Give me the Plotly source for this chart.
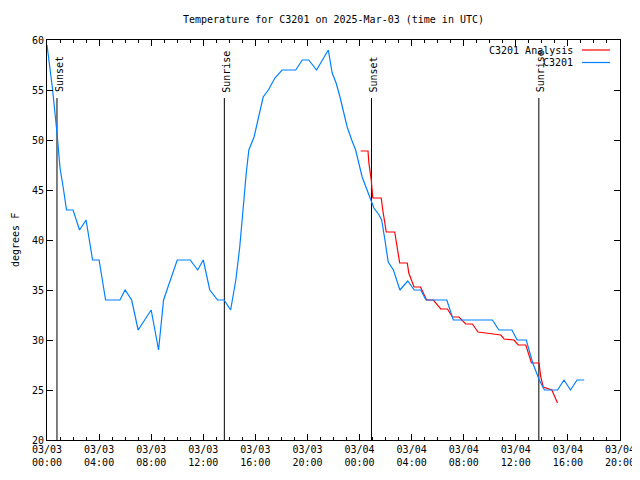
import plotly.graph_objects as go

# ---- data ----
obs_time = [
    "2025-03-03 00:00", "2025-03-03 00:25", "2025-03-03 00:47", "2025-03-03 01:00",
    "2025-03-03 01:15", "2025-03-03 01:30", "2025-03-03 02:00", "2025-03-03 02:30",
    "2025-03-03 03:00", "2025-03-03 03:30", "2025-03-03 04:00", "2025-03-03 04:30",
    "2025-03-03 05:36", "2025-03-03 06:00", "2025-03-03 06:30", "2025-03-03 07:00",
    "2025-03-03 08:00", "2025-03-03 08:34", "2025-03-03 08:57", "2025-03-03 09:12",
    "2025-03-03 09:30", "2025-03-03 10:00", "2025-03-03 11:00", "2025-03-03 11:34",
    "2025-03-03 12:00", "2025-03-03 12:30", "2025-03-03 13:06", "2025-03-03 13:36",
    "2025-03-03 14:06", "2025-03-03 14:30", "2025-03-03 14:48", "2025-03-03 15:06",
    "2025-03-03 15:18", "2025-03-03 15:30", "2025-03-03 15:54", "2025-03-03 16:15",
    "2025-03-03 16:30", "2025-03-03 16:36", "2025-03-03 17:00", "2025-03-03 17:30",
    "2025-03-03 18:03", "2025-03-03 19:06", "2025-03-03 19:36", "2025-03-03 20:06",
    "2025-03-03 20:42", "2025-03-03 21:36", "2025-03-03 21:54", "2025-03-03 22:12",
    "2025-03-03 22:30", "2025-03-03 23:03", "2025-03-03 23:24", "2025-03-03 23:42",
    "2025-03-04 00:12", "2025-03-04 00:54", "2025-03-04 01:06", "2025-03-04 01:30",
    "2025-03-04 01:42", "2025-03-04 01:57", "2025-03-04 02:12", "2025-03-04 02:36",
    "2025-03-04 03:06", "2025-03-04 03:42", "2025-03-04 04:12", "2025-03-04 04:42",
    "2025-03-04 05:06", "2025-03-04 06:42", "2025-03-04 07:12", "2025-03-04 10:12",
    "2025-03-04 10:42", "2025-03-04 11:42", "2025-03-04 12:06", "2025-03-04 12:48",
    "2025-03-04 13:18", "2025-03-04 13:48", "2025-03-04 14:12", "2025-03-04 15:12",
    "2025-03-04 15:42", "2025-03-04 16:12", "2025-03-04 16:42", "2025-03-04 17:15",
]
obs_temp = [
    59.5, 55.2, 50.5, 47.2,
    45.2, 43.0, 43.0, 41.0,
    42.0, 38.0, 38.0, 34.0,
    34.0, 35.0, 34.0, 31.0,
    33.0, 29.0, 34.0, 35.0,
    36.0, 38.0, 38.0, 37.0,
    38.0, 35.0, 34.0, 34.0,
    33.0, 36.0, 39.3, 44.3,
    46.7, 49.0, 50.3, 52.3,
    53.8, 54.3, 55.0, 56.2,
    57.0, 57.0, 58.0, 58.0,
    57.0, 59.0, 56.7, 55.7,
    54.3, 51.3, 50.0, 49.0,
    46.3, 43.8, 43.2, 42.5,
    42.0, 40.0, 37.8, 37.0,
    35.0, 35.9, 35.0, 35.0,
    34.0, 34.0, 32.0, 32.0,
    31.0, 31.0, 30.0, 30.0,
    27.7, 26.0, 25.0, 25.0,
    26.0, 25.0, 26.0, 26.0,
]

ana_time = [
    "2025-03-04 00:05", "2025-03-04 00:39", "2025-03-04 00:43", "2025-03-04 00:54",
    "2025-03-04 01:01", "2025-03-04 01:40", "2025-03-04 01:47", "2025-03-04 02:03",
    "2025-03-04 02:42", "2025-03-04 02:49", "2025-03-04 03:05", "2025-03-04 03:40",
    "2025-03-04 03:47", "2025-03-04 04:11", "2025-03-04 04:41", "2025-03-04 05:09",
    "2025-03-04 05:40", "2025-03-04 06:14", "2025-03-04 06:45", "2025-03-04 07:08",
    "2025-03-04 07:38", "2025-03-04 08:09", "2025-03-04 08:40", "2025-03-04 09:06",
    "2025-03-04 10:05", "2025-03-04 10:51", "2025-03-04 11:06", "2025-03-04 11:52",
    "2025-03-04 12:11", "2025-03-04 12:46", "2025-03-04 13:12", "2025-03-04 13:47",
    "2025-03-04 13:55", "2025-03-04 14:06", "2025-03-04 14:46", "2025-03-04 15:12",
]
ana_temp = [
    48.9, 48.9, 47.7, 46.0,
    44.2, 44.2, 43.0, 40.8,
    40.8, 39.7, 37.7, 37.7,
    36.7, 35.3, 35.3, 34.0,
    34.0, 33.1, 33.1, 32.3,
    32.3, 31.6, 31.6, 30.8,
    30.6, 30.5, 30.1, 30.0,
    29.5, 29.5, 27.7, 27.7,
    26.3, 25.3, 25.0, 23.7,
]

sun_time = ["2025-03-03 00:46", "2025-03-03 13:37", "2025-03-04 00:55", "2025-03-04 13:46"]
sun_label = ["Sunset", "Sunrise", "Sunset", "Sunrise"]

tick_vals = ["2025-03-03 00:00", "2025-03-03 04:00", "2025-03-03 08:00", "2025-03-03 12:00",
             "2025-03-03 16:00", "2025-03-03 20:00", "2025-03-04 00:00", "2025-03-04 04:00",
             "2025-03-04 08:00", "2025-03-04 12:00", "2025-03-04 16:00", "2025-03-04 20:00"]
tick_text = ["03/03<br>00:00", "03/03<br>04:00", "03/03<br>08:00", "03/03<br>12:00",
             "03/03<br>16:00", "03/03<br>20:00", "03/04<br>00:00", "03/04<br>04:00",
             "03/04<br>08:00", "03/04<br>12:00", "03/04<br>16:00", "03/04<br>20:00"]

FONT = "DejaVu Sans Mono"
RED = "#ff0000"
BLUE = "#0080ff"

# page has an 8px body margin; size the figure so the plot area lands where the reference has it
W, H = 632, 472
L, T, R, B = 39, 32, 20, 40
PW, PH = W - L - R, H - T - B  # 573 x 400

fig = go.Figure()
fig.add_trace(go.Scatter(x=ana_time, y=ana_temp, mode="lines", name="C3201 Analysis",
                         line=dict(color=RED, width=1.2)))
fig.add_trace(go.Scatter(x=obs_time, y=obs_temp, mode="lines", name="C3201",
                         line=dict(color=BLUE, width=1.2)))

for t, lab in zip(sun_time, sun_label):
    fig.add_shape(type="line", xref="x", yref="y", x0=t, x1=t, y0=20, y1=54.2,
                  line=dict(color="black", width=1), layer="below")
    fig.add_annotation(x=t, y=56.6 if lab == "Sunset" else 56.85, xref="x", yref="y",
                       text=lab, textangle=-90, showarrow=False, xanchor="center",
                       yanchor="middle", xshift=2, font=dict(family=FONT, size=10, color="black"))

# manual legend (text then sample line, like the reference); positions relative to plot area
leg = [("C3201 Analysis", RED, 10), ("C3201", BLUE, 22.5)]
for txt, col, dy in leg:
    yp = (PH - dy) / PH
    fig.add_annotation(x=528 / PW, y=yp, xref="paper", yref="paper", text=txt,
                       showarrow=False, xanchor="right", yanchor="middle",
                       font=dict(family=FONT, size=10, color="black"))
    fig.add_shape(type="line", xref="paper", yref="paper", x0=535 / PW,
                  x1=563 / PW, y0=yp, y1=yp, line=dict(color=col, width=1.2))

fig.add_annotation(x=-32 / PW, y=0.5, xref="paper", yref="paper", text="degrees F",
                   textangle=-90, showarrow=False, xanchor="center", yanchor="middle",
                   font=dict(family=FONT, size=10, color="black"))

fig.update_layout(
    width=W, height=H,
    margin=dict(l=L, r=R, t=T, b=B, autoexpand=False),
    paper_bgcolor="white", plot_bgcolor="white",
    showlegend=False,
    font=dict(family=FONT, size=10, color="black"),
    title=dict(text="Temperature for C3201 on 2025-Mar-03 (time in UTC)",
               x=(L + PW / 2) / W, xanchor="center", y=1 - 11 / H, yanchor="middle",
               font=dict(family=FONT, size=10, color="black")),
)
fig.update_xaxes(
    type="date", range=["2025-03-03 00:00", "2025-03-04 20:00"], automargin=False,
    tickvals=tick_vals, ticktext=tick_text, ticks="inside", ticklen=6, tickcolor="black",
    showline=True, linecolor="black", linewidth=1, mirror="allticks", showgrid=False,
    zeroline=False, tickfont=dict(family=FONT, size=10, color="black"),
    minor=dict(ticks="inside", ticklen=3, dtick=3600000, tickcolor="black", showgrid=False),
)
fig.update_yaxes(
    range=[20, 60], dtick=5, tick0=20, ticks="inside", ticklen=6, tickcolor="black",
    showline=True, linecolor="black", linewidth=1, mirror="allticks", showgrid=False,
    zeroline=False, automargin=False, tickfont=dict(family=FONT, size=10, color="black"),
)

fig.write_html("out.html")
